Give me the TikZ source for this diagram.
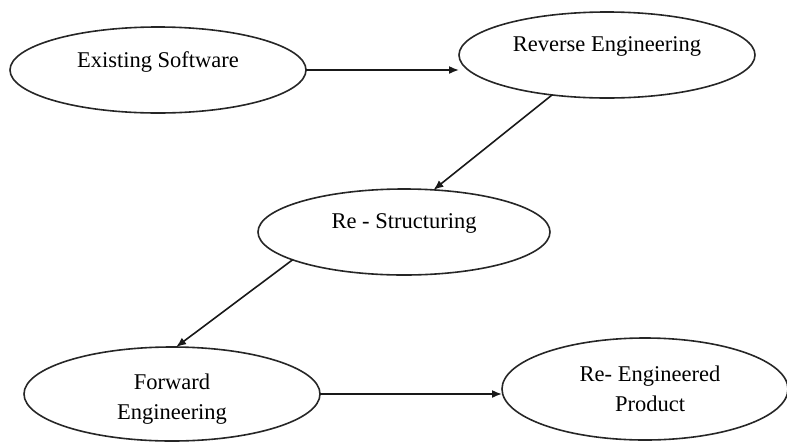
\documentclass[tikz,border=0pt]{standalone}
\usepackage{fontspec}
\setmainfont{Liberation Serif}
\usetikzlibrary{shapes.geometric,arrows.meta}
\begin{document}
\begin{tikzpicture}[x=1pt,y=-1pt,
  ell/.style={draw=black!85,line width=1.6pt,ellipse,inner sep=0pt,outer sep=0pt},
  lbl/.style={font=\fontsize{22.5}{30}\selectfont,align=center,inner sep=0pt,text=black},
  arr/.style={draw=black!90,line width=1.6pt,-{Latex[length=10pt,width=8pt]}}]
\useasboundingbox (0,0) rectangle (787,445);
\node[ell,minimum width=296pt,minimum height=86pt] (es) at (158,70) {};
\node[ell,minimum width=296pt,minimum height=86pt] (re) at (607,55) {};
\node[ell,minimum width=292pt,minimum height=86pt] (rs) at (404,232) {};
\node[ell,minimum width=296pt,minimum height=94pt] (fe) at (172,394) {};
\node[ell,minimum width=286pt,minimum height=102pt] (rp) at (645,389) {};
\node[lbl] (tes) at ([yshift=8pt]es.center) {Existing Software};
\node[lbl] (tre) at ([yshift=9pt]re.center) {Reverse Engineering};
\node[lbl] (trs) at ([yshift=9pt]rs.center) {Re - Structuring};
\node[lbl] (tfe) at ([yshift=-5pt]fe.center) {Forward\\Engineering};
\node[lbl] (trp) at ([xshift=5pt,yshift=0pt]rp.center) {Re- Engineered\\Product};
\draw[arr] (es.east) -- (es.east -| re.west);
\draw[arr] (re.216) -- (rs.55);
\draw[arr] (rs.194) -- (fe.85);
\draw[arr] (fe.east) -- (fe.east -| rp.west);
\end{tikzpicture}
\end{document}
